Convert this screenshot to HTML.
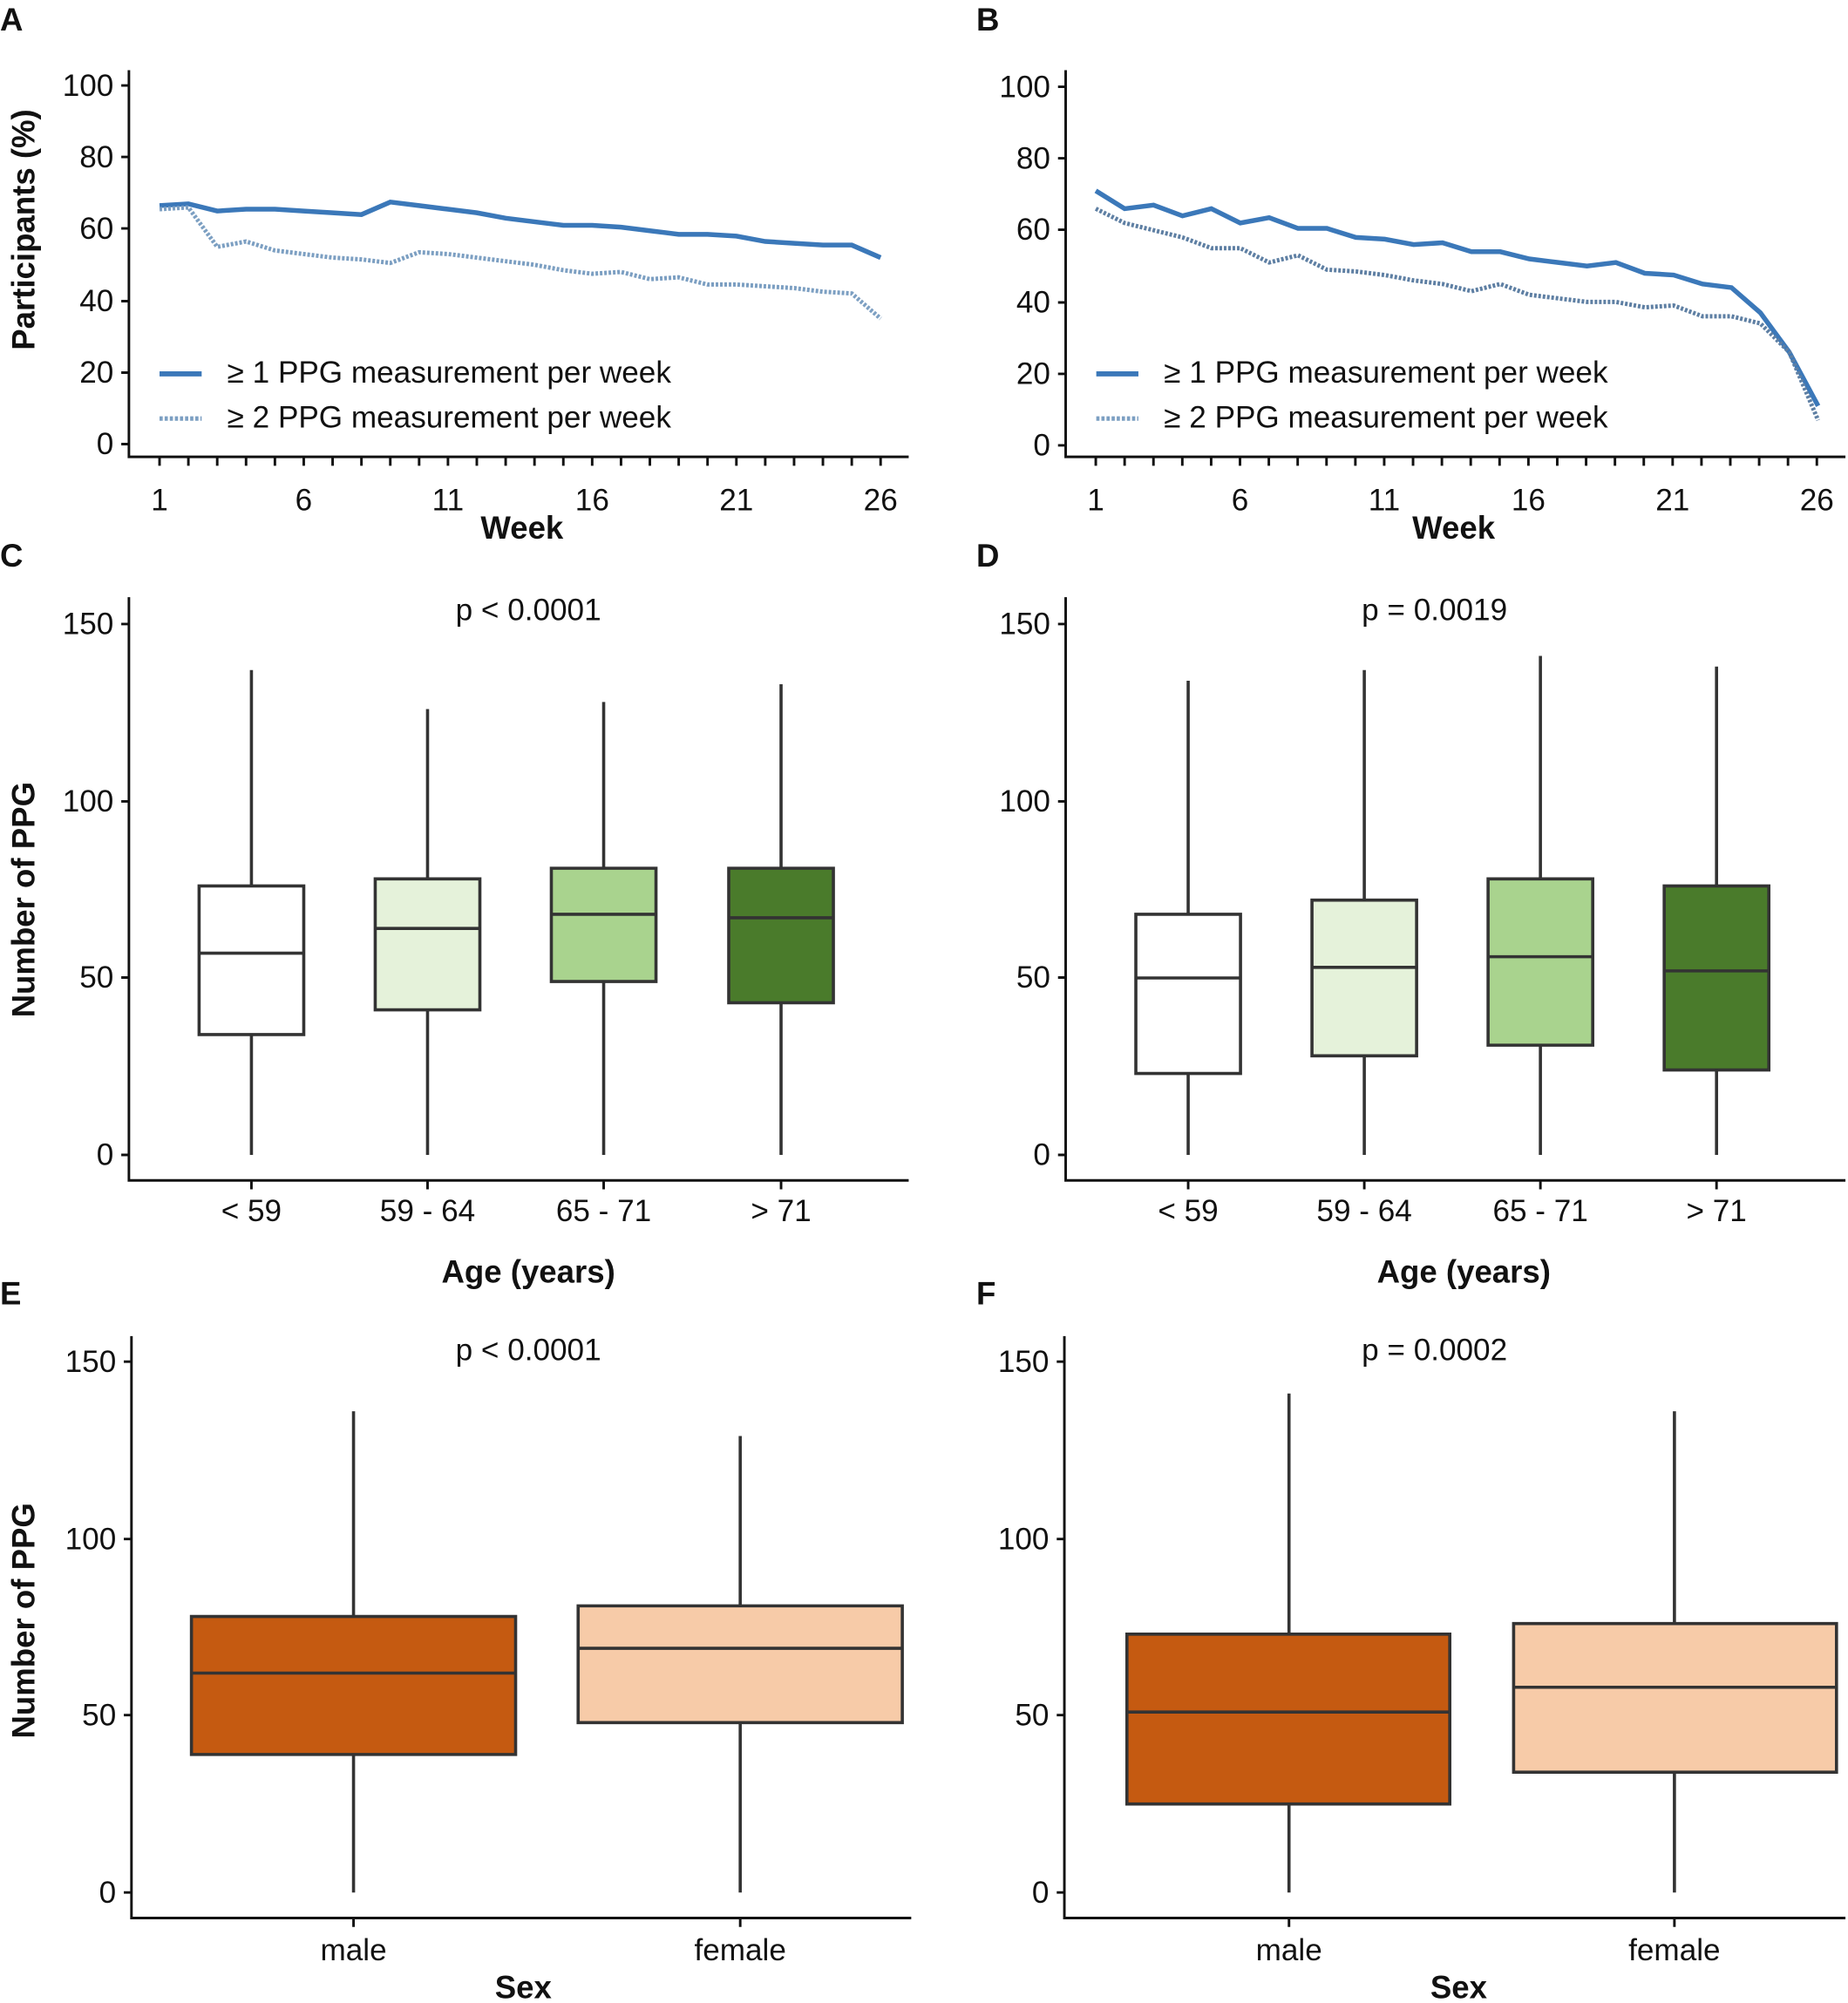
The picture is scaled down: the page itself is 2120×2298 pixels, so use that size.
<!DOCTYPE html>
<html><head><meta charset="utf-8"><style>
html,body{margin:0;padding:0;background:#fff}
svg{display:block}
text{font-family:"Liberation Sans",Arial,sans-serif;fill:#111}
.t{font-size:24px}
.b{font-weight:bold;font-size:25px}
.ax{stroke:#111;stroke-width:2;fill:none}
.bx{stroke:#333;stroke-width:3.6}
</style></head><body>
<svg width="2120" height="2298" viewBox="0 0 1448 1569.6" xmlns="http://www.w3.org/2000/svg">
<text x="0" y="24" class="b">A</text>
<text x="765" y="24" class="b">B</text>
<text x="0" y="444" class="b">C</text>
<text x="765" y="444" class="b">D</text>
<text x="0" y="1022" class="b">E</text>
<text x="765" y="1022" class="b">F</text>

<!-- Panel A -->
<g>
<path class="ax" d="M101,55 V358 H712"/>
<path class="ax" d="M95,67H101M95,123H101M95,179H101M95,236H101M95,292H101M95,348H101"/>
<g class="t" text-anchor="end">
<text x="89" y="75">100</text><text x="89" y="131">80</text><text x="89" y="187">60</text><text x="89" y="244">40</text><text x="89" y="300">20</text><text x="89" y="356">0</text>
</g>
<path class="ax" stroke-width="1.5" d="M125,358v7M147.6,358v7M170.2,358v7M192.8,358v7M215.4,358v7M238,358v7M260.6,358v7M283.2,358v7M305.8,358v7M328.4,358v7M351,358v7M373.6,358v7M396.2,358v7M418.8,358v7M441.4,358v7M464,358v7M486.6,358v7M509.2,358v7M531.8,358v7M554.4,358v7M577,358v7M599.6,358v7M622.2,358v7M644.8,358v7M667.4,358v7M690,358v7"/>
<g class="t" text-anchor="middle">
<text x="125" y="400">1</text><text x="238" y="400">6</text><text x="351" y="400">11</text><text x="464" y="400">16</text><text x="577" y="400">21</text><text x="690" y="400">26</text>
</g>
<text x="409" y="422" class="b" text-anchor="middle">Week</text>
<text transform="translate(27,180) rotate(-90)" class="b" text-anchor="middle">Participants (%)</text>
<g transform="translate(125,348) scale(22.6,-2.81)">
<polyline fill="none" stroke="#3b78b9" stroke-width="5.5" vector-effect="non-scaling-stroke" points="0,66.5 1,67 2,65 3,65.5 4,65.5 5,65 6,64.5 7,64 8,67.5 9,66.5 10,65.5 11,64.5 12,63 13,62 14,61 15,61 16,60.5 17,59.5 18,58.5 19,58.5 20,58 21,56.5 22,56 23,55.5 24,55.5 25,52"/>
<polyline fill="none" stroke="#7c9fc2" stroke-width="5" stroke-dasharray="3,2" vector-effect="non-scaling-stroke" points="0,65.5 1,66 2,55 3,56.5 4,54 5,53 6,52 7,51.5 8,50.5 9,53.5 10,53 11,52 12,51 13,50 14,48.5 15,47.5 16,48 17,46 18,46.5 19,44.5 20,44.5 21,44 22,43.5 23,42.5 24,42 25,35"/>
</g>
<line x1="125" y1="293" x2="158" y2="293" stroke="#3b78b9" stroke-width="4"/>
<line x1="125" y1="328" x2="158" y2="328" stroke="#7c9fc2" stroke-width="3.5" stroke-dasharray="2.5,1.5"/>
<text x="178" y="300" class="t">≥ 1 PPG measurement per week</text>
<text x="178" y="335" class="t">≥ 2 PPG measurement per week</text>
</g>

<!-- Panel B -->
<g>
<path class="ax" d="M835,55 V358 H1446"/>
<path class="ax" d="M829,68H835M829,124H835M829,180H835M829,237H835M829,293H835M829,349H835"/>
<g class="t" text-anchor="end">
<text x="823" y="76">100</text><text x="823" y="132">80</text><text x="823" y="188">60</text><text x="823" y="245">40</text><text x="823" y="301">20</text><text x="823" y="357">0</text>
</g>
<g transform="translate(733.6,0)">
<path class="ax" stroke-width="1.5" d="M125,358v7M147.6,358v7M170.2,358v7M192.8,358v7M215.4,358v7M238,358v7M260.6,358v7M283.2,358v7M305.8,358v7M328.4,358v7M351,358v7M373.6,358v7M396.2,358v7M418.8,358v7M441.4,358v7M464,358v7M486.6,358v7M509.2,358v7M531.8,358v7M554.4,358v7M577,358v7M599.6,358v7M622.2,358v7M644.8,358v7M667.4,358v7M690,358v7"/>
<g class="t" text-anchor="middle">
<text x="125" y="400">1</text><text x="238" y="400">6</text><text x="351" y="400">11</text><text x="464" y="400">16</text><text x="577" y="400">21</text><text x="690" y="400">26</text>
</g>
</g>
<text x="1139" y="422" class="b" text-anchor="middle">Week</text>
<g transform="translate(858.6,349) scale(22.64,-2.81)">
<polyline fill="none" stroke="#3b78b9" stroke-width="5.5" vector-effect="non-scaling-stroke" points="0,71 1,66 2,67 3,64 4,66 5,62 6,63.5 7,60.5 8,60.5 9,58 10,57.5 11,56 12,56.5 13,54 14,54 15,52 16,51 17,50 18,51 19,48 20,47.5 21,45 22,44 23,37 24,26 25,11"/>
<polyline fill="none" stroke="#5e7fa3" stroke-width="5" stroke-dasharray="3,2" vector-effect="non-scaling-stroke" points="0,66 1,62 2,60 3,58 4,55 5,55 6,51 7,53 8,49 9,48.5 10,47.5 11,46 12,45 13,43 14,45 15,42 16,41 17,40 18,40 19,38.5 20,39 21,36 22,36 23,34 24,26 25,7"/>
</g>
<line x1="859" y1="293" x2="892" y2="293" stroke="#3b78b9" stroke-width="4"/>
<line x1="859" y1="328" x2="892" y2="328" stroke="#7c9fc2" stroke-width="3.5" stroke-dasharray="2.5,1.5"/>
<text x="912" y="300" class="t">≥ 1 PPG measurement per week</text>
<text x="912" y="335" class="t">≥ 2 PPG measurement per week</text>
</g>

<!-- Panel C -->
<g>
<path class="ax" d="M101,468 V925 H712"/>
<path class="ax" d="M95,489H101M95,628H101M95,766H101M95,905H101"/>
<g class="t" text-anchor="end"><text x="89" y="497">150</text><text x="89" y="636">100</text><text x="89" y="774">50</text><text x="89" y="913">0</text></g>
<path class="ax" d="M197,925v7M335,925v7M473,925v7M612,925v7"/>
<g class="t" text-anchor="middle"><text x="197" y="957">&lt; 59</text><text x="335" y="957">59 - 64</text><text x="473" y="957">65 - 71</text><text x="612" y="957">&gt; 71</text></g>
<text x="414" y="1005" class="b" text-anchor="middle">Age (years)</text>
<text x="414" y="486" class="t" text-anchor="middle">p &lt; 0.0001</text>
<text transform="translate(27,705) rotate(-90)" class="b" text-anchor="middle">Number of PPG</text>
<g transform="translate(0,905) scale(1,-2.773)" class="bx">
<line x1="197" x2="197" y1="0" y2="137" vector-effect="non-scaling-stroke"/><rect x="156" width="82" y="34" height="42" fill="#fff" vector-effect="non-scaling-stroke"/><line x1="156" x2="238" y1="57" y2="57" vector-effect="non-scaling-stroke"/>
<line x1="335" x2="335" y1="0" y2="126" vector-effect="non-scaling-stroke"/><rect x="294" width="82" y="41" height="37" fill="#e5f2da" vector-effect="non-scaling-stroke"/><line x1="294" x2="376" y1="64" y2="64" vector-effect="non-scaling-stroke"/>
<line x1="473" x2="473" y1="0" y2="128" vector-effect="non-scaling-stroke"/><rect x="432" width="82" y="49" height="32" fill="#a9d38e" vector-effect="non-scaling-stroke"/><line x1="432" x2="514" y1="68" y2="68" vector-effect="non-scaling-stroke"/>
<line x1="612" x2="612" y1="0" y2="133" vector-effect="non-scaling-stroke"/><rect x="571" width="82" y="43" height="38" fill="#4a7b2b" vector-effect="non-scaling-stroke"/><line x1="571" x2="653" y1="67" y2="67" vector-effect="non-scaling-stroke"/>
</g>
</g>

<!-- Panel D -->
<g>
<path class="ax" d="M835,468 V925 H1446"/>
<path class="ax" d="M829,489H835M829,628H835M829,766H835M829,905H835"/>
<g class="t" text-anchor="end"><text x="823" y="497">150</text><text x="823" y="636">100</text><text x="823" y="774">50</text><text x="823" y="913">0</text></g>
<path class="ax" d="M931,925v7M1069,925v7M1207,925v7M1345,925v7"/>
<g class="t" text-anchor="middle"><text x="931" y="957">&lt; 59</text><text x="1069" y="957">59 - 64</text><text x="1207" y="957">65 - 71</text><text x="1345" y="957">&gt; 71</text></g>
<text x="1147" y="1005" class="b" text-anchor="middle">Age (years)</text>
<text x="1124" y="486" class="t" text-anchor="middle">p = 0.0019</text>
<g transform="translate(0,905) scale(1,-2.773)" class="bx">
<line x1="931" x2="931" y1="0" y2="134" vector-effect="non-scaling-stroke"/><rect x="890" width="82" y="23" height="45" fill="#fff" vector-effect="non-scaling-stroke"/><line x1="890" x2="972" y1="50" y2="50" vector-effect="non-scaling-stroke"/>
<line x1="1069" x2="1069" y1="0" y2="137" vector-effect="non-scaling-stroke"/><rect x="1028" width="82" y="28" height="44" fill="#e5f2da" vector-effect="non-scaling-stroke"/><line x1="1028" x2="1110" y1="53" y2="53" vector-effect="non-scaling-stroke"/>
<line x1="1207" x2="1207" y1="0" y2="141" vector-effect="non-scaling-stroke"/><rect x="1166" width="82" y="31" height="47" fill="#a9d38e" vector-effect="non-scaling-stroke"/><line x1="1166" x2="1248" y1="56" y2="56" vector-effect="non-scaling-stroke"/>
<line x1="1345" x2="1345" y1="0" y2="138" vector-effect="non-scaling-stroke"/><rect x="1304" width="82" y="24" height="52" fill="#4a7b2b" vector-effect="non-scaling-stroke"/><line x1="1304" x2="1386" y1="52" y2="52" vector-effect="non-scaling-stroke"/>
</g>
</g>

<!-- Panel E -->
<g>
<path class="ax" d="M103,1047 V1503 H714"/>
<path class="ax" d="M97,1067H103M97,1206H103M97,1344H103M97,1483H103"/>
<g class="t" text-anchor="end"><text x="91" y="1075">150</text><text x="91" y="1214">100</text><text x="91" y="1352">50</text><text x="91" y="1491">0</text></g>
<path class="ax" d="M277,1503v7M580,1503v7"/>
<g class="t" text-anchor="middle"><text x="277" y="1536">male</text><text x="580" y="1536">female</text></g>
<text x="410" y="1566" class="b" text-anchor="middle">Sex</text>
<text x="414" y="1066" class="t" text-anchor="middle">p &lt; 0.0001</text>
<text transform="translate(27,1270) rotate(-90)" class="b" text-anchor="middle">Number of PPG</text>
<g transform="translate(0,1483) scale(1,-2.773)" class="bx">
<line x1="277" x2="277" y1="0" y2="136" vector-effect="non-scaling-stroke"/><rect x="150" width="254" y="39" height="39" fill="#c55a11" vector-effect="non-scaling-stroke"/><line x1="150" x2="404" y1="62" y2="62" vector-effect="non-scaling-stroke"/>
<line x1="580" x2="580" y1="0" y2="129" vector-effect="non-scaling-stroke"/><rect x="453" width="254" y="48" height="33" fill="#f7cba8" vector-effect="non-scaling-stroke"/><line x1="453" x2="707" y1="69" y2="69" vector-effect="non-scaling-stroke"/>
</g>
</g>

<!-- Panel F -->
<g>
<path class="ax" d="M834,1047 V1503 H1446"/>
<path class="ax" d="M828,1067H834M828,1206H834M828,1344H834M828,1483H834"/>
<g class="t" text-anchor="end"><text x="822" y="1075">150</text><text x="822" y="1214">100</text><text x="822" y="1352">50</text><text x="822" y="1491">0</text></g>
<path class="ax" d="M1010,1503v7M1312,1503v7"/>
<g class="t" text-anchor="middle"><text x="1010" y="1536">male</text><text x="1312" y="1536">female</text></g>
<text x="1143" y="1566" class="b" text-anchor="middle">Sex</text>
<text x="1124" y="1066" class="t" text-anchor="middle">p = 0.0002</text>
<g transform="translate(0,1483) scale(1,-2.773)" class="bx">
<line x1="1010" x2="1010" y1="0" y2="141" vector-effect="non-scaling-stroke"/><rect x="883" width="253" y="25" height="48" fill="#c55a11" vector-effect="non-scaling-stroke"/><line x1="883" x2="1136" y1="51" y2="51" vector-effect="non-scaling-stroke"/>
<line x1="1312" x2="1312" y1="0" y2="136" vector-effect="non-scaling-stroke"/><rect x="1186" width="253" y="34" height="42" fill="#f7cba8" vector-effect="non-scaling-stroke"/><line x1="1186" x2="1439" y1="58" y2="58" vector-effect="non-scaling-stroke"/>
</g>
</g>
</svg>
</body></html>
